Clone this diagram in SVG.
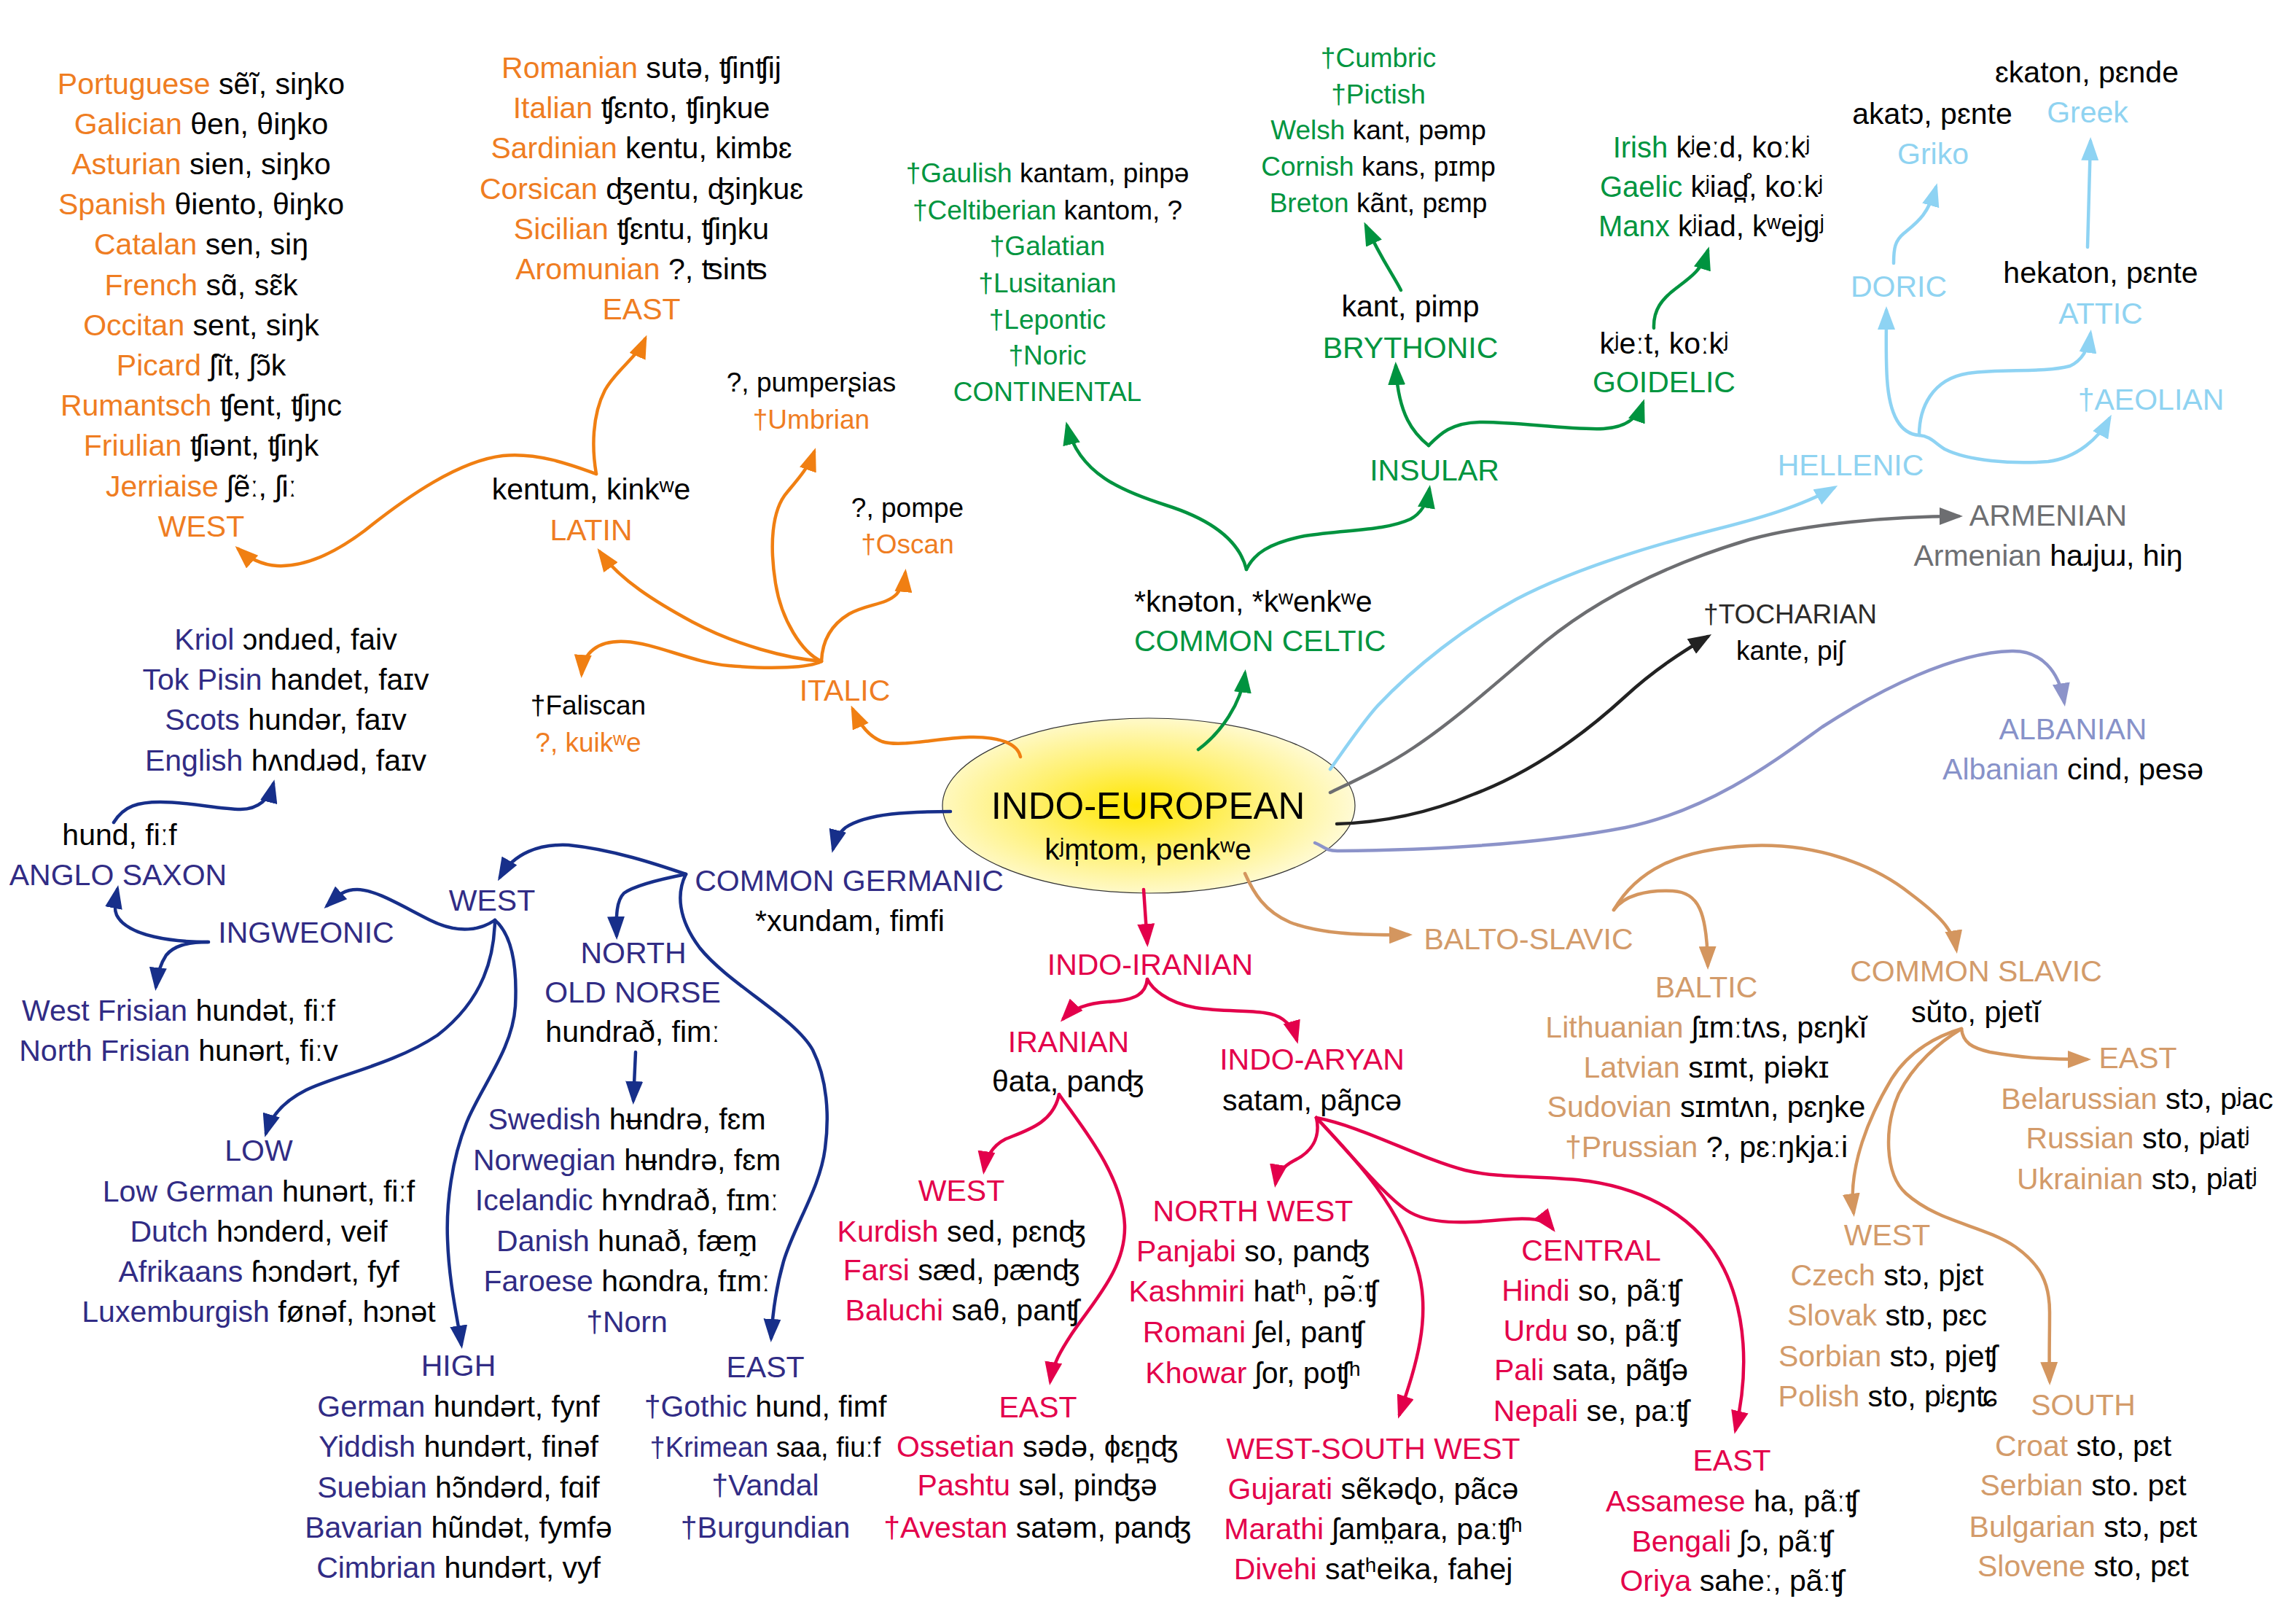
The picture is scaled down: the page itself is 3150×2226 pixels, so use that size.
<svg xmlns="http://www.w3.org/2000/svg" width="3150" height="2226" viewBox="0 0 3150 2226">
<defs>
<style>
text{font-family:"Liberation Sans","DejaVu Sans",sans-serif;font-size:41px;text-anchor:middle;fill:#000}
.s37{font-size:37px}
.s40{font-size:40px}
.s38{font-size:38px}
.big{font-size:51px}
.st{text-anchor:start}
.or{fill:#EF7D22}
.gr{fill:#00953F}
.nv{fill:#312C85}
.rd{fill:#E3004B}
.tn{fill:#D39B6A}
.lb{fill:#8FD3F1}
.gy{fill:#6E6F72}
.dk{fill:#2B2A29}
.al{fill:#8792C9}
.c{fill:none;stroke-width:4.5;stroke-linecap:round}
.co{stroke:#F07F12;marker-end:url(#ao)}
.cg{stroke:#00933F;marker-end:url(#ag)}
.cn{stroke:#172F8A;marker-end:url(#an)}
.cr{stroke:#E3004B;marker-end:url(#ar)}
.ct{stroke:#D4965F;marker-end:url(#at)}
.cb{stroke:#8ED3F3;marker-end:url(#ab)}
.cy{stroke:#6D6E71;marker-end:url(#ay)}
.ck{stroke:#222222;marker-end:url(#ak)}
.ca{stroke:#8C93C9;marker-end:url(#aa)}
.nm{stroke:none;marker-end:none}
</style>
<radialGradient id="ieg" cx="0.47" cy="0.5" r="0.55">
<stop offset="0" stop-color="#FFE600"/>
<stop offset="0.45" stop-color="#FFF06A"/>
<stop offset="1" stop-color="#FFFBDC"/>
</radialGradient>
<marker id="ao" viewBox="0 0 32 24" refX="26" refY="12" markerWidth="32" markerHeight="24" markerUnits="userSpaceOnUse" orient="auto"><path d="M0,0L32,12L0,24z" fill="#F07F12"/></marker>
<marker id="ag" viewBox="0 0 32 24" refX="26" refY="12" markerWidth="32" markerHeight="24" markerUnits="userSpaceOnUse" orient="auto"><path d="M0,0L32,12L0,24z" fill="#00933F"/></marker>
<marker id="an" viewBox="0 0 32 24" refX="26" refY="12" markerWidth="32" markerHeight="24" markerUnits="userSpaceOnUse" orient="auto"><path d="M0,0L32,12L0,24z" fill="#172F8A"/></marker>
<marker id="ar" viewBox="0 0 32 24" refX="26" refY="12" markerWidth="32" markerHeight="24" markerUnits="userSpaceOnUse" orient="auto"><path d="M0,0L32,12L0,24z" fill="#E3004B"/></marker>
<marker id="at" viewBox="0 0 32 24" refX="26" refY="12" markerWidth="32" markerHeight="24" markerUnits="userSpaceOnUse" orient="auto"><path d="M0,0L32,12L0,24z" fill="#D4965F"/></marker>
<marker id="ab" viewBox="0 0 32 24" refX="26" refY="12" markerWidth="32" markerHeight="24" markerUnits="userSpaceOnUse" orient="auto"><path d="M0,0L32,12L0,24z" fill="#8ED3F3"/></marker>
<marker id="ay" viewBox="0 0 32 24" refX="26" refY="12" markerWidth="32" markerHeight="24" markerUnits="userSpaceOnUse" orient="auto"><path d="M0,0L32,12L0,24z" fill="#6D6E71"/></marker>
<marker id="ak" viewBox="0 0 32 24" refX="26" refY="12" markerWidth="32" markerHeight="24" markerUnits="userSpaceOnUse" orient="auto"><path d="M0,0L32,12L0,24z" fill="#222222"/></marker>
<marker id="aa" viewBox="0 0 32 24" refX="26" refY="12" markerWidth="32" markerHeight="24" markerUnits="userSpaceOnUse" orient="auto"><path d="M0,0L32,12L0,24z" fill="#8C93C9"/></marker>
</defs>
<rect width="3150" height="2226" fill="#FFFFFF"/>

<g id="indo-european">
<ellipse cx="1576" cy="1105" rx="283" ry="120" fill="url(#ieg)" stroke="#333333" stroke-width="1.2"/>
<text class="big" x="1575" y="1123">INDO-EUROPEAN</text>
<text x="1575" y="1178.7">kʲm̩tom, penkʷe</text>
</g>

<g id="connectors">
<!-- Italic -->
<path class="c co" d="M1400,1038 C1396,1020 1372,1010 1330,1011 C1280,1013 1235,1025 1210,1017 C1192,1010 1180,995 1170,973"/>
<path class="c co" d="M1127,907 C1080,903 1010,885 950,853 C900,826 850,795 823,757"/>
<path class="c co" d="M1127,907 C1110,916 1060,918 1000,913 C950,909 900,882 858,880 C820,878 800,895 798,924"/>
<path class="c co" d="M1127,907 C1128,880 1140,857 1165,842 C1190,828 1215,830 1230,815 C1238,806 1241,796 1242,786"/>
<path class="c co" d="M1127,907 C1100,895 1072,850 1064,800 C1056,750 1058,700 1080,675 C1095,657 1110,640 1117,620"/>
<path class="c co" d="M818,650 C790,640 740,620 690,625 C630,632 560,680 500,728 C460,758 420,778 380,776 C360,775 340,765 327,753"/>
<path class="c co" d="M818,650 C812,615 812,570 830,535 C845,508 874,490 885,465"/>
<!-- Celtic -->
<path class="c cg" d="M1644,1028 C1675,1005 1703,965 1708,924"/>
<path class="c cg" d="M1710,781 C1700,740 1660,712 1600,693 C1540,674 1480,650 1464,584"/>
<path class="c cg" d="M1710,781 C1720,760 1740,745 1790,735 C1850,726 1900,728 1935,712 C1950,704 1958,690 1961,671"/>
<path class="c cg" d="M1960,611 C1940,595 1918,570 1915,502"/>
<path class="c cg" d="M1960,611 C1975,596 1990,580 2030,579 C2080,578 2150,590 2200,588 C2235,586 2248,570 2254,553"/>
<path class="c cg" d="M1922,398 C1910,375 1895,355 1874,310"/>
<path class="c cg" d="M2269,450 C2268,425 2280,410 2300,395 C2320,380 2335,370 2343,344"/>
<!-- Hellenic -->
<path class="c cb" d="M1825,1055 C1850,1020 1870,990 1890,968 C1940,915 2010,860 2080,822 C2160,780 2260,750 2350,727 C2410,712 2470,695 2516,669"/>
<path class="c cb" d="M2633,597 C2605,595 2592,565 2589,520 C2587,490 2588,460 2588,426"/>
<path class="c cb" d="M2633,597 C2633,560 2650,520 2700,512 C2750,505 2800,512 2840,502 C2855,495 2865,480 2868,458"/>
<path class="c cb" d="M2633,597 C2648,598 2655,608 2668,616 C2700,632 2760,637 2810,633 C2850,628 2880,600 2894,574"/>
<path class="c cb" d="M2598,361 C2598,340 2600,330 2612,320 C2630,305 2645,295 2656,257"/>
<path class="c cb" d="M2864,339 L2868,194"/>
<!-- Armenian, Tocharian, Albanian -->
<path class="c cy" d="M1825,1087 C1860,1070 1900,1052 1940,1025 C2000,985 2060,930 2120,880 C2200,815 2300,770 2400,740 C2480,718 2600,708 2687,708"/>
<path class="c ck" d="M1834,1130 C1900,1128 1960,1115 2020,1090 C2100,1060 2170,1010 2230,955 C2270,918 2310,893 2343,873"/>
<path class="c ca" d="M1804,1156 C1815,1160 1818,1167 1835,1167 C1950,1166 2100,1160 2230,1135 C2350,1110 2440,1040 2500,997 C2580,945 2680,895 2760,893 C2800,892 2825,920 2832,963"/>
<!-- Balto-Slavic -->
<path class="c ct" d="M1708,1198 C1720,1225 1735,1250 1770,1265 C1810,1280 1860,1283 1932,1282"/>
<path class="c ct" d="M2214,1248 C2228,1228 2260,1220 2295,1222 C2330,1224 2342,1250 2343,1324"/>
<path class="c ct" d="M2214,1248 C2245,1195 2300,1165 2400,1160 C2490,1156 2570,1185 2620,1225 C2660,1255 2680,1275 2684,1302"/>
<path class="c ct" d="M2691,1411 C2693,1430 2705,1437 2730,1443 C2770,1450 2800,1453 2863,1453"/>
<path class="c ct" d="M2691,1411 C2660,1420 2620,1440 2595,1480 C2565,1530 2535,1600 2543,1663"/>
<path class="c ct" d="M2691,1411 C2660,1430 2625,1460 2605,1500 C2585,1545 2585,1610 2615,1637 C2660,1677 2720,1680 2765,1710 C2800,1735 2812,1760 2812,1800 C2812,1840 2811,1860 2812,1894"/>
<!-- Indo-Iranian -->
<path class="c cr" d="M1569,1220 L1574,1293"/>
<path class="c cr" d="M1574,1343 C1572,1362 1560,1372 1520,1374 C1490,1376 1470,1385 1459,1397"/>
<path class="c cr" d="M1574,1343 C1580,1355 1600,1375 1640,1382 C1690,1390 1740,1382 1760,1398 C1770,1405 1776,1415 1779,1426"/>
<path class="c cr" d="M1453,1501 C1445,1540 1410,1550 1380,1562 C1360,1572 1352,1590 1350,1605"/>
<path class="c cr" d="M1453,1501 C1480,1540 1540,1610 1543,1680 C1545,1740 1500,1785 1470,1830 C1455,1853 1445,1870 1441,1894"/>
<path class="c cr" d="M1806,1533 C1812,1560 1800,1580 1775,1592 C1760,1600 1752,1610 1750,1623"/>
<path class="c cr" d="M1806,1533 C1850,1580 1920,1650 1945,1740 C1965,1810 1940,1880 1920,1940"/>
<path class="c cr" d="M1806,1533 C1850,1580 1900,1640 1930,1660 C1960,1680 2010,1678 2060,1673 C2100,1669 2120,1672 2130,1685"/>
<path class="c cr" d="M1806,1533 C1870,1545 1950,1590 2010,1605 C2060,1617 2120,1612 2180,1620 C2260,1632 2330,1670 2365,1740 C2395,1800 2400,1880 2381,1961"/>
<!-- Germanic -->
<path class="c cn" d="M1304,1113 C1250,1113 1190,1115 1160,1135 C1150,1143 1146,1152 1143,1164"/>
<path class="c cn" d="M941,1199 C900,1185 840,1165 780,1159 C740,1157 705,1170 686,1203"/>
<path class="c cn" d="M941,1199 C900,1207 870,1215 856,1225 C846,1235 845,1255 846,1283"/>
<path class="c cn" d="M941,1199 C928,1225 930,1260 960,1300 C1000,1350 1090,1395 1115,1440 C1135,1480 1138,1530 1132,1575 C1125,1630 1090,1680 1075,1730 C1065,1765 1060,1800 1058,1835"/>
<path class="c cn" d="M679,1262 C660,1275 630,1282 590,1262 C550,1242 515,1220 490,1220 C470,1220 462,1230 449,1242"/>
<path class="c cn" d="M679,1262 C678,1310 665,1370 600,1420 C540,1460 460,1475 420,1495 C390,1510 372,1530 365,1554"/>
<path class="c cn" d="M679,1262 C700,1280 710,1320 707,1380 C703,1440 660,1490 640,1540 C620,1590 612,1650 614,1700 C616,1760 628,1810 633,1844"/>
<path class="c cn" d="M286,1292 C240,1292 175,1285 160,1255 C156,1245 158,1235 161,1220"/>
<path class="c cn" d="M286,1292 C255,1292 238,1298 228,1310 C220,1322 216,1335 214,1353"/>
<path class="c cn" d="M156,1128 C170,1105 190,1100 220,1100 C260,1100 300,1110 330,1110 C355,1110 370,1095 375,1075"/>
<path class="c cn" d="M872,1443 L869,1509"/>
</g>

<g id="romance-west">
<text x="276" y="128.5"><tspan class="or">Portuguese</tspan> sẽĩ, siŋko</text>
<text x="276" y="183.7"><tspan class="or">Galician</tspan> θen, θiŋko</text>
<text x="276" y="238.9"><tspan class="or">Asturian</tspan> sien, siŋko</text>
<text x="276" y="294.1"><tspan class="or">Spanish</tspan> θiento, θiŋko</text>
<text x="276" y="349.3"><tspan class="or">Catalan</tspan> sen, siŋ</text>
<text x="276" y="404.5"><tspan class="or">French</tspan> sɑ̃, sɛ̃k</text>
<text x="276" y="459.7"><tspan class="or">Occitan</tspan> sent, siŋk</text>
<text x="276" y="514.9"><tspan class="or">Picard</tspan> ʃĩt, ʃɔ̃k</text>
<text x="276" y="570.1"><tspan class="or">Rumantsch</tspan> ʧent, ʧiɲc</text>
<text x="276" y="625.3"><tspan class="or">Friulian</tspan> ʧiənt, ʧiŋk</text>
<text x="276" y="680.5"><tspan class="or">Jerriaise</tspan> ʃẽː, ʃiː</text>
<text x="276" y="735.7" class="or">WEST</text>
</g>
<g id="romance-east">
<text x="880" y="106.6"><tspan class="or">Romanian</tspan> sutə, ʧinʧij</text>
<text x="880" y="161.9"><tspan class="or">Italian</tspan> ʧɛnto, ʧiŋkue</text>
<text x="880" y="217.2"><tspan class="or">Sardinian</tspan> kentu, kimbɛ</text>
<text x="880" y="272.5"><tspan class="or">Corsican</tspan> ʤentu, ʤiŋkuɛ</text>
<text x="880" y="327.8"><tspan class="or">Sicilian</tspan> ʧɛntu, ʧiŋku</text>
<text x="880" y="383.1"><tspan class="or">Aromunian</tspan> ?, ʦinʦ</text>
<text x="880" y="438.4" class="or">EAST</text>
</g>
<g id="latin">
<text x="811" y="685">kentum, kinkʷe</text>
<text x="811" y="740.7" class="or">LATIN</text>
</g>
<g id="umbrian">
<text class="s37" x="1113" y="537">?, pumperʂias</text>
<text class="s37 or" x="1113" y="587.5">†Umbrian</text>
</g>
<g id="oscan">
<text class="s37" x="1245" y="708.7">?, pompe</text>
<text class="s37 or" x="1245" y="758.6">†Oscan</text>
</g>
<g id="faliscan">
<text class="s37" x="807" y="980">†Faliscan</text>
<text class="s37 or" x="807" y="1030.8">?, kuikʷe</text>
</g>
<g id="italic">
<text class="or" x="1159" y="960.6">ITALIC</text>
</g>

<g id="continental">
<text class="s37" x="1437" y="249.6"><tspan class="gr">†Gaulish</tspan> kantam, pinpə</text>
<text class="s37" x="1437" y="300.5"><tspan class="gr">†Celtiberian</tspan> kantom, ?</text>
<text class="s37 gr" x="1437" y="350">†Galatian</text>
<text class="s37 gr" x="1437" y="400.5">†Lusitanian</text>
<text class="s37 gr" x="1437" y="451">†Lepontic</text>
<text class="s37 gr" x="1437" y="500">†Noric</text>
<text class="s37 gr" x="1437" y="550">CONTINENTAL</text>
</g>
<g id="brythonic-languages">
<text class="s37 gr" x="1891" y="92">†Cumbric</text>
<text class="s37 gr" x="1891" y="141.7">†Pictish</text>
<text class="s37" x="1891" y="191.4"><tspan class="gr">Welsh</tspan> kant, pəmp</text>
<text class="s37" x="1891" y="241.1"><tspan class="gr">Cornish</tspan> kans, pɪmp</text>
<text class="s37" x="1891" y="290.8"><tspan class="gr">Breton</tspan> kãnt, pɛmp</text>
</g>
<g id="brythonic">
<text x="1935" y="433.8">kant, pimp</text>
<text class="gr" x="1935" y="490.5">BRYTHONIC</text>
</g>
<g id="insular">
<text class="gr" x="1968" y="659">INSULAR</text>
</g>
<g id="goidelic-languages">
<text class="s40" x="2348" y="215.7"><tspan class="gr">Irish</tspan> kʲeːd, koːkʲ</text>
<text class="s40" x="2348" y="269.5"><tspan class="gr">Gaelic</tspan> kʲiad̪̊, koːkʲ</text>
<text class="s40" x="2348" y="323.8"><tspan class="gr">Manx</tspan> kʲiad, kʷejgʲ</text>
</g>
<g id="goidelic">
<text x="2283" y="484.7">kʲeːt, koːkʲ</text>
<text class="gr" x="2283" y="538">GOIDELIC</text>
</g>
<g id="common-celtic">
<text class="st" x="1556" y="839">*knəton, *kʷenkʷe</text>
<text class="st gr" x="1556" y="892.7">COMMON CELTIC</text>
</g>

<g id="greek">
<text x="2863" y="112.5">ɛkaton, pɛnde</text>
<text class="lb" x="2864" y="168">Greek</text>
</g>
<g id="griko">
<text x="2651" y="169.7">akatɔ, pɛnte</text>
<text class="lb" x="2652" y="225.4">Griko</text>
</g>
<g id="doric"><text class="lb" x="2605" y="407">DORIC</text></g>
<g id="attic">
<text x="2882" y="387.8">hekaton, pɛnte</text>
<text class="lb" x="2882" y="443.5">ATTIC</text>
</g>
<g id="aeolian"><text class="lb" x="2951" y="562">†AEOLIAN</text></g>
<g id="hellenic"><text class="lb" x="2539" y="652">HELLENIC</text></g>
<g id="armenian">
<text class="gy" x="2810" y="721">ARMENIAN</text>
<text x="2810" y="776"><tspan class="gy">Armenian</tspan> haɹjuɹ, hiŋ</text>
</g>
<g id="tocharian">
<text class="s37 dk" x="2456" y="855">†TOCHARIAN</text>
<text class="s37" x="2456" y="905">kante, piʃ</text>
</g>
<g id="albanian">
<text class="al" x="2844" y="1014">ALBANIAN</text>
<text x="2844" y="1068.6"><tspan class="al">Albanian</tspan> cind, pesə</text>
</g>

<g id="english-group">
<text x="392" y="891"><tspan class="nv">Kriol</tspan> ɔndɹed, faiv</text>
<text x="392" y="946.2"><tspan class="nv">Tok Pisin</tspan> handet, faɪv</text>
<text x="392" y="1001.4"><tspan class="nv">Scots</tspan> hundər, faɪv</text>
<text x="392" y="1056.6"><tspan class="nv">English</tspan> hʌndɹəd, faɪv</text>
</g>
<g id="anglo-saxon">
<text x="164" y="1159">hund, fiːf</text>
<text class="nv" x="162" y="1214">ANGLO SAXON</text>
</g>
<g id="germanic-west"><text class="nv" x="675" y="1249">WEST</text></g>
<g id="ingweonic"><text class="nv" x="420" y="1292.6">INGWEONIC</text></g>
<g id="frisian">
<text x="245" y="1400"><tspan class="nv">West Frisian</tspan> hundət, fiːf</text>
<text x="245" y="1455"><tspan class="nv">North Frisian</tspan> hunərt, fiːv</text>
</g>
<g id="common-germanic">
<text class="nv" x="1165" y="1222.3">COMMON GERMANIC</text>
<text x="1166" y="1277">*xundam, fimfi</text>
</g>
<g id="north">
<text class="nv" x="869" y="1320.7">NORTH</text>
<text class="nv" x="868" y="1375">OLD NORSE</text>
<text x="868" y="1429">hundrað, fimː</text>
</g>
<g id="norse-languages">
<text x="860" y="1549"><tspan class="nv">Swedish</tspan> hʉndrə, fɛm</text>
<text x="860" y="1604.5"><tspan class="nv">Norwegian</tspan> hʉndrə, fɛm</text>
<text x="860" y="1660"><tspan class="nv">Icelandic</tspan> hʏndrað, fɪmː</text>
<text x="860" y="1715.5"><tspan class="nv">Danish</tspan> hunað, fæm̰</text>
<text x="860" y="1771"><tspan class="nv">Faroese</tspan> hɷndra, fɪmː</text>
<text class="nv" x="860" y="1826.5">†Norn</text>
</g>
<g id="low">
<text class="nv" x="355" y="1592">LOW</text>
<text x="355" y="1647.6"><tspan class="nv">Low German</tspan> hunərt, fiːf</text>
<text x="355" y="1703"><tspan class="nv">Dutch</tspan> hɔnderd, veif</text>
<text x="355" y="1757.6"><tspan class="nv">Afrikaans</tspan> ɦɔndərt, fyf</text>
<text x="355" y="1813"><tspan class="nv">Luxemburgish</tspan> fønəf, hɔnət</text>
</g>
<g id="high">
<text class="nv" x="629" y="1887">HIGH</text>
<text x="629" y="1943"><tspan class="nv">German</tspan> hundərt, fynf</text>
<text x="629" y="1998"><tspan class="nv">Yiddish</tspan> hundərt, finəf</text>
<text x="629" y="2053.8"><tspan class="nv">Suebian</tspan> hɔ̃ndərd, fɑif</text>
<text x="629" y="2108.6"><tspan class="nv">Bavarian</tspan> hũndət, fymfə</text>
<text x="629" y="2164"><tspan class="nv">Cimbrian</tspan> hundərt, vyf</text>
</g>
<g id="germanic-east">
<text class="nv" x="1050" y="1888.6">EAST</text>
<text x="1050" y="1943"><tspan class="nv">†Gothic</tspan> hund, fimf</text>
<text class="s38" x="1050" y="1998"><tspan class="nv">†Krimean</tspan> saa, fiuːf</text>
<text class="nv" x="1050" y="2051">†Vandal</text>
<text class="nv" x="1050" y="2108.6">†Burgundian</text>
</g>

<g id="indo-iranian"><text class="rd" x="1578" y="1337">INDO-IRANIAN</text></g>
<g id="iranian">
<text class="rd" x="1466" y="1443">IRANIAN</text>
<text x="1465" y="1497">θata, panʤ</text>
</g>
<g id="iranian-west">
<text class="rd" x="1319" y="1646.7">WEST</text>
<text x="1319" y="1703"><tspan class="rd">Kurdish</tspan> sed, pɛnʤ</text>
<text x="1319" y="1756"><tspan class="rd">Farsi</tspan> sæd, pænʤ</text>
<text x="1320" y="1811"><tspan class="rd">Baluchi</tspan> saθ, panʧ</text>
</g>
<g id="iranian-east">
<text class="rd" x="1424" y="1944">EAST</text>
<text x="1423" y="1998"><tspan class="rd">Ossetian</tspan> sədə, ɸɛn̪ʤ</text>
<text x="1423" y="2051"><tspan class="rd">Pashtu</tspan> səl, pinʤə</text>
<text x="1423" y="2108.6"><tspan class="rd">†Avestan</tspan> satəm, panʤ</text>
</g>
<g id="indo-aryan">
<text class="rd" x="1800" y="1467">INDO-ARYAN</text>
<text x="1800" y="1523">satam, pãɲcə</text>
</g>
<g id="north-west">
<text class="rd" x="1719" y="1675">NORTH WEST</text>
<text x="1719" y="1730"><tspan class="rd">Panjabi</tspan> so, panʤ</text>
<text x="1719" y="1784.8"><tspan class="rd">Kashmiri</tspan> hatʰ, pə̃ːʧ</text>
<text x="1719" y="1841"><tspan class="rd">Romani</tspan> ʃel, panʧ</text>
<text x="1719" y="1896.7"><tspan class="rd">Khowar</tspan> ʃor, poʧʰ</text>
</g>
<g id="central">
<text class="rd" x="2183" y="1728.6">CENTRAL</text>
<text x="2183" y="1783.8"><tspan class="rd">Hindi</tspan> so, pãːʧ</text>
<text x="2183" y="1838.6"><tspan class="rd">Urdu</tspan> so, pãːʧ</text>
<text x="2183" y="1893"><tspan class="rd">Pali</tspan> sata, pãʧə</text>
<text x="2183" y="1949"><tspan class="rd">Nepali</tspan> se, paːʧ</text>
</g>
<g id="west-south-west">
<text class="rd" x="1884" y="2000.5">WEST-SOUTH WEST</text>
<text x="1884" y="2056"><tspan class="rd">Gujarati</tspan> sẽkəɖo, pãcə</text>
<text x="1884" y="2111"><tspan class="rd">Marathi</tspan> ʃamb̤ara, paːʧʰ</text>
<text x="1884" y="2165.7"><tspan class="rd">Divehi</tspan> satʰeika, fahej</text>
</g>
<g id="indo-aryan-east">
<text class="rd" x="2376" y="2017">EAST</text>
<text x="2376" y="2073"><tspan class="rd">Assamese</tspan> ha, pãːʧ</text>
<text x="2376" y="2127.6"><tspan class="rd">Bengali</tspan> ʃɔ, pãːʧ</text>
<text x="2376" y="2182"><tspan class="rd">Oriya</tspan> saheː, pãːʧ</text>
</g>

<g id="balto-slavic"><text class="tn" x="2097" y="1302.3">BALTO-SLAVIC</text></g>
<g id="baltic">
<text class="tn" x="2341" y="1367.7">BALTIC</text>
<text x="2341" y="1422.5"><tspan class="tn">Lithuanian</tspan> ʃɪmːtʌs, pɛŋkĭ</text>
<text x="2341" y="1477.8"><tspan class="tn">Latvian</tspan> sɪmt, piəkɪ</text>
<text x="2341" y="1532.4"><tspan class="tn">Sudovian</tspan> sɪmtʌn, pɛŋke</text>
<text x="2341" y="1587"><tspan class="tn">†Prussian</tspan> ?, pɛːŋkjaːi</text>
</g>
<g id="common-slavic">
<text class="tn" x="2711" y="1346">COMMON SLAVIC</text>
<text x="2711" y="1401.7">sŭto, pjetĭ</text>
</g>
<g id="slavic-east">
<text class="tn" x="2933" y="1464.7">EAST</text>
<text x="2932" y="1520.5"><tspan class="tn">Belarussian</tspan> stɔ, pʲac</text>
<text x="2933" y="1575"><tspan class="tn">Russian</tspan> sto, pʲatʲ</text>
<text x="2932" y="1631.4"><tspan class="tn">Ukrainian</tspan> stɔ, pʲatʲ</text>
</g>
<g id="slavic-west">
<text class="tn" x="2589" y="1707.6">WEST</text>
<text x="2589" y="1763"><tspan class="tn">Czech</tspan> stɔ, pjɛt</text>
<text x="2589" y="1818"><tspan class="tn">Slovak</tspan> stɒ, pɛc</text>
<text x="2590" y="1874"><tspan class="tn">Sorbian</tspan> stɔ, pjeʧ</text>
<text x="2590" y="1929"><tspan class="tn">Polish</tspan> sto, pʲɛɲʨ</text>
</g>
<g id="slavic-south">
<text class="tn" x="2858" y="1941">SOUTH</text>
<text x="2858" y="1996.7"><tspan class="tn">Croat</tspan> sto, pɛt</text>
<text x="2858" y="2051"><tspan class="tn">Serbian</tspan> sto. pɛt</text>
<text x="2858" y="2107.6"><tspan class="tn">Bulgarian</tspan> stɔ, pɛt</text>
<text x="2858" y="2162"><tspan class="tn">Slovene</tspan> sto, pɛt</text>
</g>
</svg>
